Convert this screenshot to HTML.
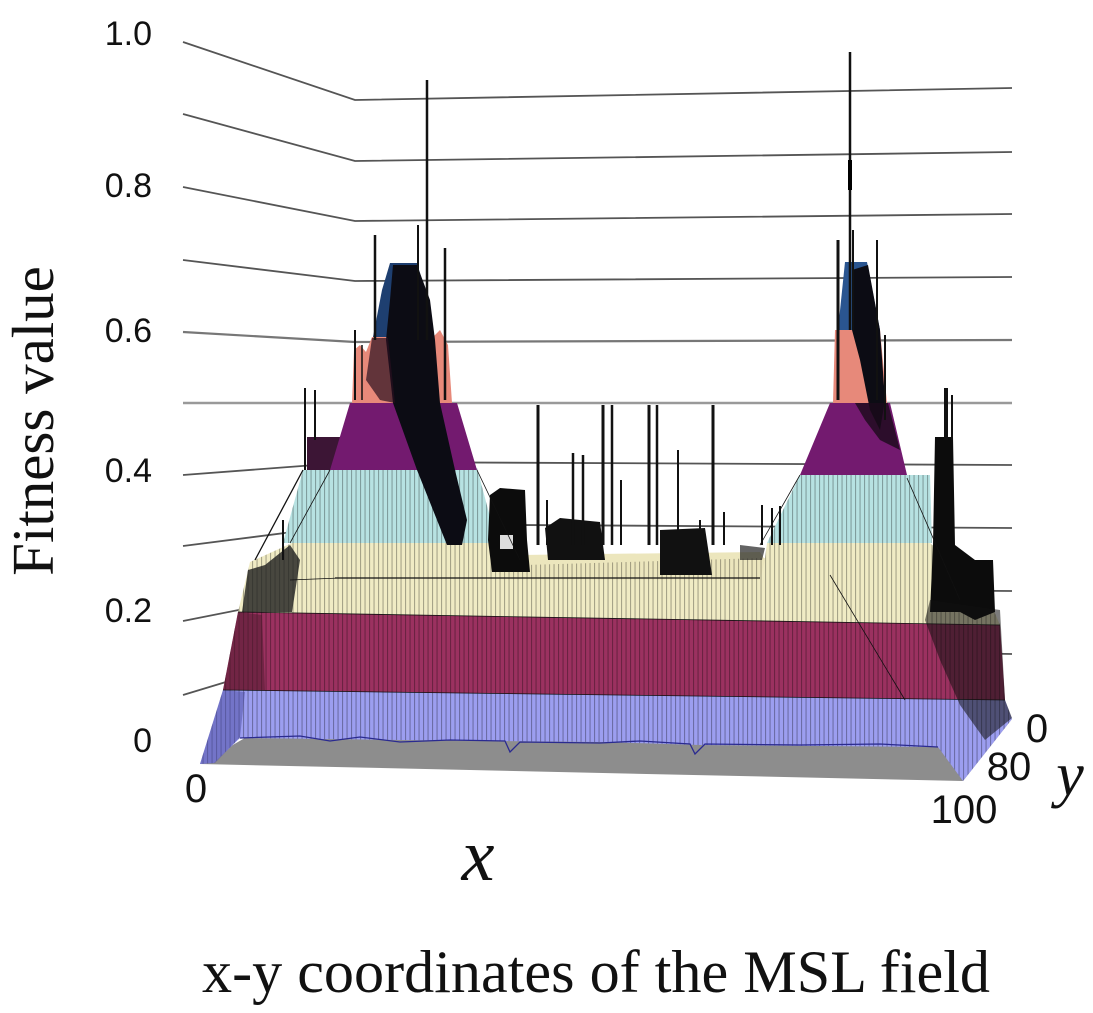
<!DOCTYPE html>
<html><head><meta charset="utf-8"><style>
html,body{margin:0;padding:0;background:#fff;}
svg{display:block;}
</style></head><body>
<svg width="1093" height="1013" viewBox="0 0 1093 1013" xmlns="http://www.w3.org/2000/svg">
<defs>
<pattern id="vs" width="4.5" height="20" patternUnits="userSpaceOnUse"><rect x="0" y="0" width="1.1" height="20" fill="#000"/></pattern>
<polygon id="pBlue" points="200,764 223,690 1005,700 1012,719 963,781 938,747 700,745 600,742 400,740 240,738 214,763"/>
<polygon id="pMar" points="223,690 238,612 1000,625 1005,700"/>
<polygon id="pCream" points="238,612 250,562 292,543 495,543 525,565 765,558 767,543 930,543 985,590 1000,625"/>
<polygon id="pMid" points="495,560 520,555 760,552 765,560 760,580 500,580"/>
<polygon id="pCyanL" points="283,543 303,470 477,468 497,543"/>
<polygon id="pCyanR" points="767,543 800,475 930,475 932,543"/>
</defs>
<rect width="1093" height="1013" fill="#fff"/>

<!-- grid lines -->
<g fill="none" stroke="#555" stroke-width="1.8">
<polyline points="183,42 355,100 1012,88"/>
<polyline points="183,114 355,161 1012,152"/>
<polyline points="183,187 355,221 1012,214"/>
<polyline points="183,260 355,281 1012,277"/>
<polyline points="183,332 355,342 1012,340" stroke="#777" stroke-width="2.2"/>
<polyline points="183,403 355,403 1012,403" stroke="#999" stroke-width="2.6"/>
<polyline points="183,475 355,462 1012,465"/>
<polyline points="183,546 355,524 1012,528"/>
<polyline points="183,621 355,587 1012,591"/>
<polyline points="183,695 355,643 1012,654"/>
</g>

<!-- floor -->
<polygon points="200,764 963,781 1012,719 985,712 250,735" fill="#8d8d8d"/>

<!-- bands -->
<use href="#pBlue" fill="#9c9ef0"/>
<use href="#pMar" fill="#9b3160"/>
<use href="#pCream" fill="#f0ebc4"/>
<use href="#pMid" fill="#ece6bd"/>
<use href="#pCyanL" fill="#b7e2e2"/>
<use href="#pCyanR" fill="#b7e2e2"/>

<!-- stripes -->
<g opacity="0.3">
<use href="#pBlue" fill="url(#vs)"/>
<use href="#pMar" fill="url(#vs)"/>
<use href="#pCream" fill="url(#vs)"/>
<use href="#pCyanL" fill="url(#vs)"/>
<use href="#pCyanR" fill="url(#vs)"/>
</g>

<!-- left peak -->
<polygon points="307,470 307,437 340,437 345,470" fill="#3c1535"/>
<polygon points="330,470 350,403 457,403 477,470" fill="#731a6f"/>
<polygon points="352,403 354,350 360,345 366,352 372,337 433,337 440,330 448,345 452,403" fill="#e7897a"/>
<polygon points="373,337 382,290 390,263 417,263 425,290 433,337" fill="#1e3f70"/>
<polygon points="393,265 417,265 430,300 435,340 440,403 455,470 467,520 462,545 447,545 417,470 393,403 386,340 390,300" fill="#0c0c14"/>
<polygon points="388,338 372,338 366,380 380,400 395,403" fill="#2a1020" opacity="0.7"/>

<!-- right peak -->
<polygon points="800,475 830,403 890,403 907,475" fill="#731a6f"/>
<polygon points="833,403 835,330 880,330 887,403" fill="#e7897a"/>
<polygon points="838,330 845,262 867,262 880,330" fill="#2a5590"/>
<polygon points="852,270 868,265 880,330 885,400 880,430 870,410 860,360 852,330" fill="#0c0c14"/>
<polygon points="855,403 888,403 900,450 880,440 865,420" fill="#1a0a1a" opacity="0.8"/>

<!-- right black column and messy region -->
<polygon points="935,437 953,437 955,545 975,560 993,560 995,612 975,620 960,612 930,612 933,545" fill="#0c0c0c"/>
<polygon points="930,600 1000,610 1005,700 1012,718 985,740 960,705 940,660 925,620" fill="#111" opacity="0.55"/>
<line x1="946" y1="388" x2="946" y2="440" stroke="#111" stroke-width="4"/>
<line x1="952" y1="395" x2="952" y2="440" stroke="#111" stroke-width="2"/>

<!-- middle black clumps -->
<polygon points="490,495 500,488 525,490 527,540 530,572 492,572 488,540" fill="#0c0c0c"/>
<rect x="500" y="535" width="13" height="14" fill="#ddd"/>
<polygon points="545,528 560,518 600,522 605,560 548,560" fill="#111"/>
<polygon points="660,530 705,528 712,575 660,575" fill="#111"/>
<polygon points="740,545 765,548 762,560 740,560" fill="#222" opacity="0.7"/>

<!-- left messy areas -->
<polygon points="242,612 248,570 265,565 290,545 300,560 292,612" fill="#1e1e1e" opacity="0.8"/>
<polygon points="223,690 238,612 262,615 265,690" fill="#4a1a2a" opacity="0.5"/>
<polygon points="200,764 223,690 245,692 240,737 215,763" fill="#4a4aa0" opacity="0.5"/>

<!-- thin mesh lines -->
<g stroke="#111" stroke-width="1.3" fill="none">
<line x1="335" y1="578" x2="760" y2="578"/>
<line x1="238" y1="612" x2="1000" y2="625" stroke-width="0.8"/>
<line x1="223" y1="690" x2="1005" y2="700" stroke-width="0.8"/>
<polyline points="240,738 300,736 330,741 360,737 400,742 450,740 505,741 510,752 520,742 600,743 640,741 690,744 695,754 705,744 800,745 880,744 938,747" stroke="#2a2a90"/>
<line x1="303" y1="470" x2="255" y2="560"/>
<line x1="330" y1="470" x2="290" y2="543" stroke-width="0.8"/>
<line x1="477" y1="470" x2="520" y2="560" stroke-width="0.8"/>
<line x1="800" y1="475" x2="760" y2="545" stroke-width="0.8"/>
<line x1="907" y1="478" x2="960" y2="600" stroke-width="0.8"/>
<line x1="830" y1="575" x2="905" y2="700" stroke-width="0.8"/>
<line x1="290" y1="580" x2="340" y2="578" stroke-width="0.8"/>
<line x1="1085" y1="580" x2="1000" y2="580" stroke-width="0" />
</g>

<!-- spikes -->
<g stroke="#111" stroke-linecap="butt">
<line x1="427" y1="80" x2="427" y2="340" stroke-width="2.5"/>
<line x1="418" y1="225" x2="418" y2="340" stroke-width="2"/>
<line x1="375" y1="235" x2="375" y2="340" stroke-width="2.5"/>
<line x1="445" y1="248" x2="445" y2="400" stroke-width="2.5"/>
<line x1="355" y1="330" x2="355" y2="400" stroke-width="2"/>
<line x1="362" y1="345" x2="362" y2="400" stroke-width="1.5"/>
<line x1="305" y1="388" x2="305" y2="470" stroke-width="2"/>
<line x1="315" y1="390" x2="315" y2="440" stroke-width="2"/>
<line x1="283" y1="520" x2="283" y2="560" stroke-width="2"/>

<line x1="538" y1="405" x2="538" y2="545" stroke-width="3"/>
<line x1="603" y1="405" x2="603" y2="545" stroke-width="3"/>
<line x1="612" y1="405" x2="612" y2="545" stroke-width="2.5"/>
<line x1="649" y1="405" x2="649" y2="545" stroke-width="3"/>
<line x1="657" y1="405" x2="657" y2="545" stroke-width="2.5"/>
<line x1="713" y1="405" x2="713" y2="545" stroke-width="3"/>
<line x1="573" y1="453" x2="573" y2="545" stroke-width="2.5"/>
<line x1="583" y1="455" x2="583" y2="545" stroke-width="2.5"/>
<line x1="678" y1="450" x2="678" y2="545" stroke-width="2"/>
<line x1="547" y1="500" x2="547" y2="545" stroke-width="2"/>
<line x1="562" y1="520" x2="562" y2="545" stroke-width="2"/>
<line x1="621" y1="480" x2="621" y2="545" stroke-width="2"/>
<line x1="700" y1="520" x2="700" y2="545" stroke-width="2"/>
<line x1="724" y1="512" x2="724" y2="545" stroke-width="2"/>
<line x1="762" y1="505" x2="762" y2="545" stroke-width="2"/>
<line x1="772" y1="508" x2="772" y2="545" stroke-width="2"/>
<line x1="780" y1="506" x2="780" y2="545" stroke-width="2"/>

<line x1="850" y1="52" x2="850" y2="330" stroke-width="2.5"/>
<line x1="838" y1="240" x2="838" y2="400" stroke-width="3"/>
<line x1="853" y1="230" x2="853" y2="330" stroke-width="2"/>
<line x1="877" y1="240" x2="877" y2="400" stroke-width="2"/>
<line x1="885" y1="335" x2="885" y2="420" stroke-width="2"/>
</g>
<line x1="850" y1="160" x2="850" y2="190" stroke="#000" stroke-width="4"/>

<!-- tick labels -->
<g font-family="'Liberation Sans', Arial, sans-serif" font-size="34" fill="#111" text-anchor="end">
<text x="152" y="45">1.0</text>
<text x="152" y="197">0.8</text>
<text x="152" y="342">0.6</text>
<text x="152" y="482">0.4</text>
<text x="152" y="622">0.2</text>
<text x="152" y="752">0</text>
</g>
<g font-family="'Liberation Sans', Arial, sans-serif" font-size="40" fill="#111" text-anchor="middle">
<text x="196" y="802">0</text>
<text x="964" y="823">100</text>
<text x="1009" y="780">80</text>
<text x="1037" y="742">0</text>
</g>

<!-- axis titles -->
<text transform="translate(53,421) rotate(-90)" text-anchor="middle" font-family="'Liberation Serif', 'Times New Roman', serif" font-size="59" fill="#111">Fitness value</text>
<text x="478" y="880" text-anchor="middle" font-family="'Liberation Serif', 'Times New Roman', serif" font-style="italic" font-size="74" fill="#111">x</text>
<text x="1070" y="795" text-anchor="middle" font-family="'Liberation Serif', 'Times New Roman', serif" font-style="italic" font-size="62" fill="#111">y</text>
<text x="202" y="992" font-family="'Liberation Serif', 'Times New Roman', serif" font-size="60" fill="#111" textLength="788" lengthAdjust="spacingAndGlyphs">x-y coordinates of the MSL field</text>
</svg>
</body></html>
